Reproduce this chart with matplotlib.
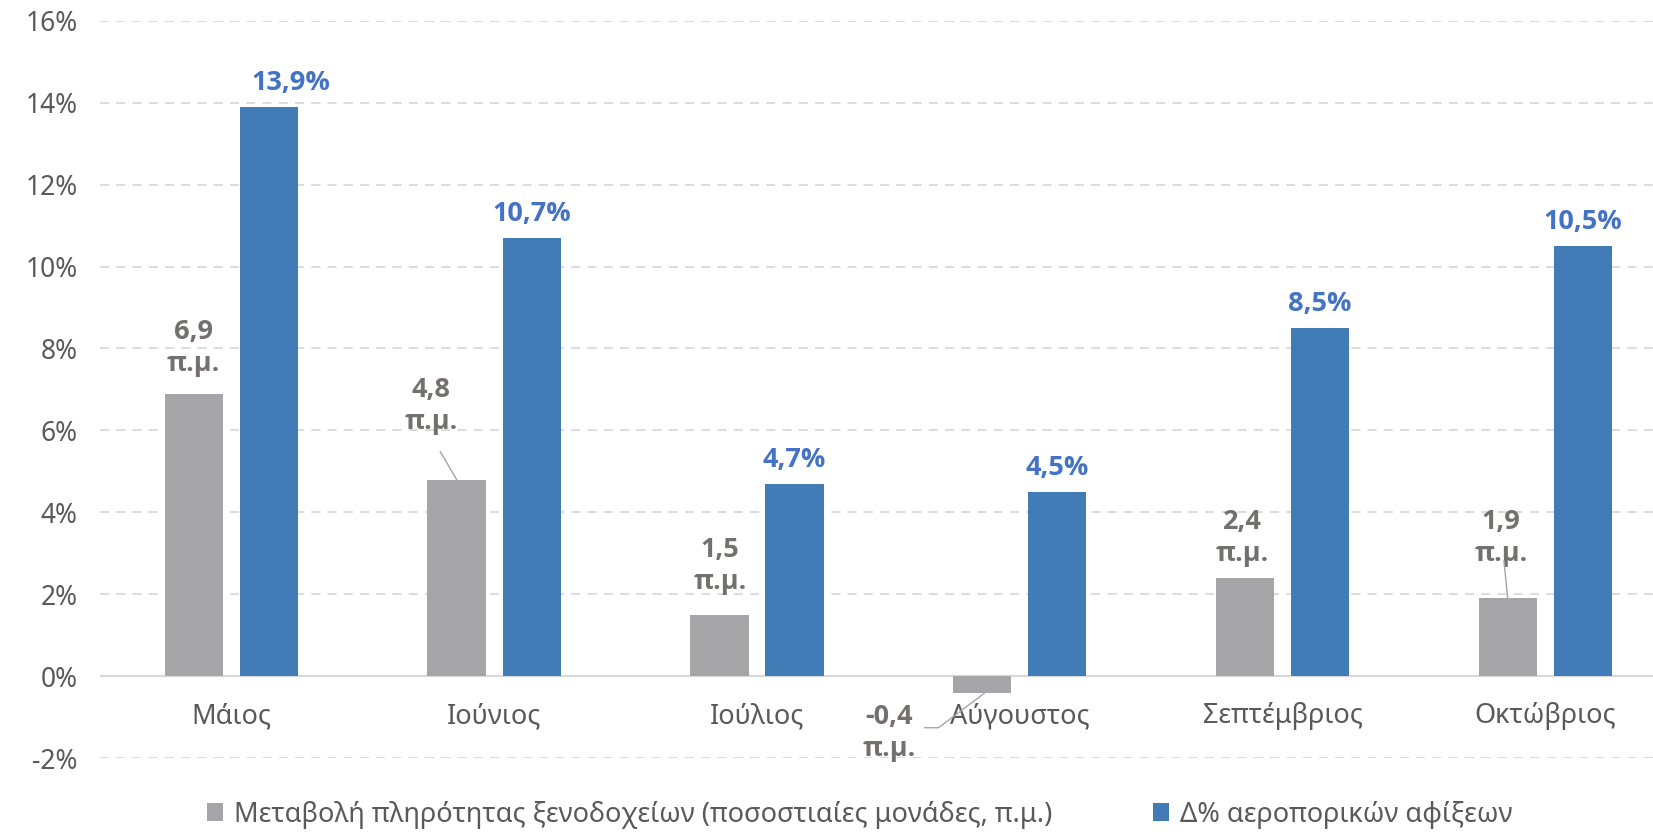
import numpy as np
import matplotlib.pyplot as plt

plt.rcParams["font.family"] = ["Noto Sans", "DejaVu Sans"]

# data
months = ["Μάιος", "Ιούνιος", "Ιούλιος", "Αύγουστος", "Σεπτέμβριος", "Οκτώβριος"]
occupancy_pp = [6.9, 4.8, 1.5, -0.4, 2.4, 1.9]
air_arrivals = [13.9, 10.7, 4.7, 4.5, 8.5, 10.5]
series_names = ["Μεταβολή πληρότητας ξενοδοχείων (ποσοστιαίες μονάδες, π.μ.)",
                "Δ% αεροπορικών αφίξεων"]

gray = "#A5A5A8"
blue = "#427CB6"
gray_txt = "#747070"
blue_txt = "#4472C4"
tick_col = "#595959"
grid_col = "#D9D9D9"
bold_font = ["Open Sans", "Roboto", "DejaVu Sans"]

# label placement (x offset from group centre, y in %) for the gray series
gray_lbl_pos = [(-0.145, 8.0), (-0.241, 6.6), (-0.141, 2.68),
                (-0.498, -1.39), (-0.153, 3.37), (-0.169, 3.37)]
blue_lbl_dx = [16, 0, 0, 0, 0, 0]

fig = plt.figure(figsize=(16.53, 8.33), dpi=100)
ax = fig.add_axes([0.0605, 0.090, 0.9395, 0.885])

x = np.arange(len(months))
w = 0.222
off = 0.143
ax.bar(x - off, occupancy_pp, w, color=gray, label=series_names[0], zorder=2)
ax.bar(x + off, air_arrivals, w, color=blue, label=series_names[1], zorder=2)

ax.set_ylim(-2, 16)
ax.set_xlim(-0.5, 5.41)
ax.set_yticks(range(-2, 17, 2))
ax.set_yticklabels([f"{t}%" for t in range(-2, 17, 2)])
ax.tick_params(axis="y", length=0, labelsize=19, labelcolor=tick_col, pad=16)
ax.set_xticks([])
for s in ax.spines.values():
    s.set_visible(False)
for t in range(-2, 17, 2):
    if t == 0:
        ax.axhline(0, color=grid_col, lw=1.6, zorder=1)
    else:
        ax.axhline(t, color=grid_col, lw=1.3, ls=(0, (5, 4)), zorder=1)

# category labels sit under the zero line
for i, m in enumerate(months):
    ax.annotate(m, (i, 0), xytext=(0, -29), textcoords="offset points",
                ha="center", va="center", fontsize=19.5, color=tick_col)

# gray labels
for i, v in enumerate(occupancy_pp):
    dx, y = gray_lbl_pos[i]
    ax.text(i + dx, y, f"{v:.1f}".replace(".", ",") + "\nπ.μ.", ha="center",
            va="center", fontsize=19.5, fontweight="bold", color=gray_txt,
            linespacing=1.3, family=bold_font)

# leader lines
ax.plot([1 - 0.205, 1 - off], [5.48, occupancy_pp[1]], color="#A6A6A6", lw=1, zorder=3)
ax.plot([3 - 0.361, 3 - 0.309, 3 - 0.129], [-1.26, -1.26, -0.39],
        color="#A6A6A6", lw=1, zorder=3)
ax.plot([5 - 0.157, 5 - off], [2.81, occupancy_pp[5]], color="#A6A6A6", lw=1, zorder=3)

# blue labels
for i, v in enumerate(air_arrivals):
    ax.annotate(f"{v:.1f}%".replace(".", ","), (i + off, v),
                xytext=(blue_lbl_dx[i], 8), textcoords="offset points",
                ha="center", va="bottom", fontsize=19.5, fontweight="bold",
                color=blue_txt, family=bold_font)

fig.legend(loc="lower center", bbox_to_anchor=(0.52, -0.024), ncol=2,
           frameon=False, fontsize=19.5, labelcolor=tick_col, handlelength=0.6,
           handleheight=0.6, handletextpad=0.4, columnspacing=3.7)

fig.savefig("out.png", dpi=100)
